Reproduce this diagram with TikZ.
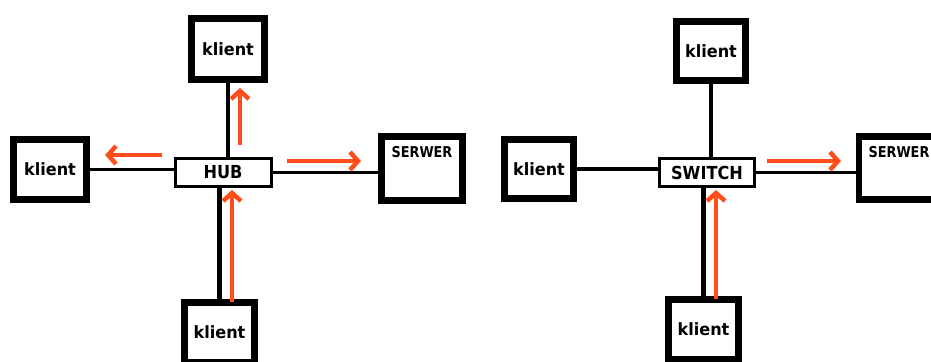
\documentclass[tikz,border=0pt]{standalone}
\usepackage{fontspec}
\setmainfont{DejaVu Sans}
\newfontfamily\pcfont[FakeStretch=0.95]{DejaVu Sans}
\newfontfamily\hubfont[FakeStretch=0.9]{DejaVu Sans}
\newfontfamily\srvfont[FakeStretch=0.86]{DejaVu Sans}
\usetikzlibrary{arrows.meta}
\definecolor{flow}{RGB}{255,78,28}
\begin{document}
\begin{tikzpicture}[x=1bp,y=-1bp,
  pc/.style={draw, line width=7bp, fill=white, inner sep=0pt,
    font=\pcfont\fontsize{17}{17}\selectfont\bfseries},
  hubbox/.style={draw, line width=3bp, fill=white, inner sep=0pt,
    minimum width=96bp, minimum height=28bp,
    font=\hubfont\fontsize{18}{18}\selectfont\bfseries},
  srvlabel/.style={font=\srvfont\fontsize{15}{15}\selectfont\bfseries, inner sep=0pt},
  wire/.style={line width=3.5bp},
  trunk/.style={line width=5.5bp},
  flowarrow/.style={draw=flow, line width=4.5bp,
    -{Straight Barb[length=8bp,width=18bp]}}
]
\useasboundingbox (0,0) rectangle (931,361);
\clip (0,0) rectangle (931,361);

% ---- hub network ----
\node[hubbox] (hub) at (223,172.5) {HUB};
\node[pc, minimum width=73bp, minimum height=61bp] (tk1) at (228,49) {klient};
\node[pc, minimum width=73bp, minimum height=60bp] (lk1) at (50,169.5) {klient};
\node[pc, minimum width=70bp, minimum height=60bp] (bk1) at (219.5,332.5) {klient};
\node[pc, line width=6.5bp, minimum width=81bp, minimum height=64bp,
  label={[srvlabel, anchor=north, yshift=-13bp]north:SERWER}] (srv1) at (422,168.5) {};

\draw[wire]  (tk1.south) -- (tk1.south |- hub.north);
\draw[wire]  (lk1.east)  -- (lk1.east -| hub.west);
\draw[wire]  (hub.east)  -- (hub.east -| srv1.west);
\draw[trunk] (bk1.north) -- (bk1.north |- hub.south);

\coordinate (h1a) at (240,145); \coordinate (h1b) at (240,88);
\coordinate (h2a) at (162,155); \coordinate (h2b) at (105,155);
\coordinate (h3a) at (287,161); \coordinate (h3b) at (361,161);
\coordinate (h4a) at (232,302); \coordinate (h4b) at (232,190);
\draw[flowarrow] (h1a) -- (h1b);
\draw[flowarrow] (h2a) -- (h2b);
\draw[flowarrow] (h3a) -- (h3b);
\draw[flowarrow] (h4a) -- (h4b);

% ---- switch network ----
\node[hubbox, minimum width=95bp] (sw) at (707,172.5) {SWITCH};
\node[pc, minimum width=69bp, minimum height=59bp] (tk2) at (711,51) {klient};
\node[pc, minimum width=69bp, minimum height=59bp] (lk2) at (539,169) {klient};
\node[pc, minimum width=70bp, minimum height=60bp] (bk2) at (703.5,329) {klient};
\node[pc, line width=6.5bp, minimum width=80bp, minimum height=63bp,
  label={[srvlabel, anchor=north, yshift=-13bp]north:SERWER}] (srv2) at (899,168) {};

\draw[wire]  (tk2.south) -- (tk2.south |- sw.north);
\draw[wire]  (lk2.east)  -- (lk2.east -| sw.west);
\draw[wire]  (sw.east)   -- (sw.east -| srv2.west);
\draw[trunk] (bk2.north) -- (bk2.north |- sw.south);

\coordinate (s1a) at (767,161); \coordinate (s1b) at (841,161);
\coordinate (s2a) at (716,299); \coordinate (s2b) at (716,190);
\draw[flowarrow] (s1a) -- (s1b);
\draw[flowarrow] (s2a) -- (s2b);
\end{tikzpicture}
\end{document}
